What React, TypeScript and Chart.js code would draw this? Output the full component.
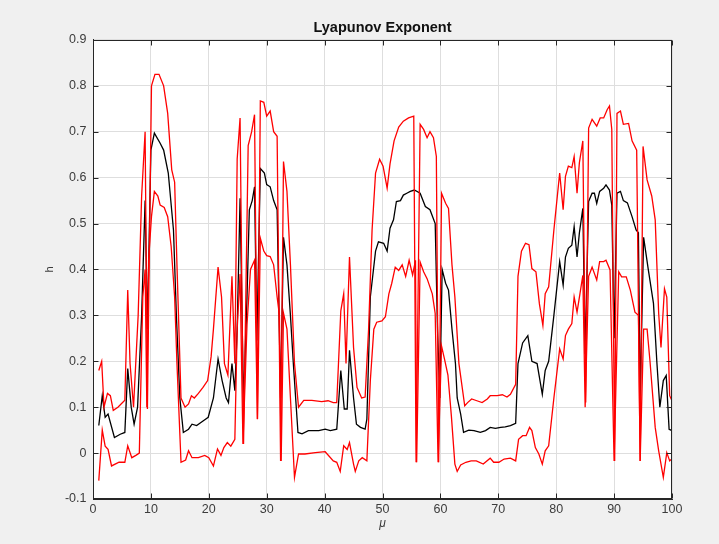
import React, { useEffect, useRef } from "react";
import { Chart, registerables } from "chart.js";

Chart.register(...registerables);

const titleText = "Lyapunov Exponent";
const xLabel = "μ";
const yLabel = "h";

const xTicks = [0, 10, 20, 30, 40, 50, 60, 70, 80, 90, 100];
const yTicks = [-0.1, 0, 0.1, 0.2, 0.3, 0.4, 0.5, 0.6, 0.7, 0.8, 0.9];

const blackMu = [
  1.0, 1.6, 2.1, 2.6, 3.7, 4.7, 5.5, 6.0, 6.6, 7.1, 7.7, 8.4, 9.0, 9.4, 10.0, 10.6, 11.6, 12.2, 13.0, 13.9,
  14.4, 15.0, 15.6, 16.5, 17.1, 17.9, 19.0, 19.9, 20.8, 21.6, 22.3, 23.0, 23.4, 24.0, 24.5, 24.9, 25.4, 26.0, 26.6, 27.0,
  27.5, 27.9, 28.3, 28.9, 29.6, 30.0, 30.6, 31.2, 31.8, 32.4, 32.9, 33.5, 34.1, 34.6, 35.4, 36.1, 37.2, 39.0, 40.1, 41.0,
  42.1, 42.8, 43.4, 43.9, 44.3, 45.0, 45.5, 46.2, 47.0, 47.3, 47.9, 48.8, 49.3, 50.2, 50.8, 51.3, 51.9, 52.4, 53.1, 53.6,
  54.2, 54.8, 55.5, 56.5, 57.4, 58.2, 59.1, 59.5, 59.9, 60.3, 60.9, 61.4, 62.0, 62.6, 62.9, 63.5, 64.0, 64.9, 65.8, 66.9,
  67.8, 68.6, 69.5, 70.4, 71.2, 72.1, 73.0, 73.4, 74.2, 75.1, 75.8, 76.7, 77.6, 78.1, 78.7, 79.6, 80.6, 81.2, 81.6, 82.1,
  82.7, 83.1, 83.6, 84.0, 84.6, 85.0, 85.6, 86.2, 86.6, 87.0, 87.5, 88.2, 88.6, 89.2, 89.6, 90.0, 90.5, 91.1, 91.6, 92.3,
  93.1, 93.8, 94.2, 94.5, 95.1, 95.9, 96.8, 97.4, 97.9, 98.5, 99.0, 99.5, 100.0,
];
const blackH = [
  0.06, 0.125, 0.078, 0.085, 0.034, 0.041, 0.045, 0.184, 0.1, 0.063, 0.1, 0.3, 0.55, 0.27, 0.66, 0.697, 0.675, 0.66, 0.61, 0.486,
  0.3, 0.12, 0.045, 0.052, 0.063, 0.06, 0.07, 0.078, 0.12, 0.205, 0.158, 0.12, 0.11, 0.195, 0.136, 0.27, 0.555, 0.107, 0.34, 0.53,
  0.55, 0.58, 0.245, 0.62, 0.61, 0.585, 0.58, 0.55, 0.53, 0.12, 0.47, 0.41, 0.3, 0.195, 0.045, 0.042, 0.049, 0.049, 0.052, 0.049,
  0.052, 0.18, 0.096, 0.096, 0.224, 0.12, 0.063, 0.056, 0.052, 0.074, 0.34, 0.44, 0.46, 0.457, 0.44, 0.49, 0.508, 0.548, 0.55, 0.562,
  0.566, 0.57, 0.573, 0.566, 0.537, 0.53, 0.5, 0.27, 0.12, 0.4, 0.37, 0.355, 0.27, 0.195, 0.12, 0.085, 0.045, 0.05, 0.049, 0.045,
  0.049, 0.056, 0.054, 0.056, 0.057, 0.06, 0.065, 0.195, 0.24, 0.256, 0.2, 0.195, 0.128, 0.18, 0.2, 0.3, 0.417, 0.366, 0.427, 0.446,
  0.453, 0.493, 0.427, 0.479, 0.533, 0.216, 0.548, 0.566, 0.566, 0.544, 0.57, 0.577, 0.584, 0.573, 0.54, 0.25, 0.566, 0.57, 0.55, 0.545,
  0.515, 0.486, 0.48, 0.12, 0.47, 0.4, 0.326, 0.195, 0.1, 0.158, 0.169, 0.052, 0.049,
];

const upperMu = [
  1.0, 1.5, 1.9, 2.5, 3.0, 3.5, 4.3, 5.5, 6.0, 6.4, 7.0, 7.8, 8.4, 9.0, 9.4, 9.7, 10.1, 10.7, 11.4, 12.2,
  12.9, 13.6, 14.1, 14.5, 15.2, 15.9, 16.5, 17.0, 17.5, 18.2, 19.0, 19.8, 20.4, 20.8, 21.6, 22.2, 22.7, 23.3, 24.0, 24.5,
  24.9, 25.4, 26.0, 26.8, 27.4, 27.9, 28.4, 28.9, 29.5, 30.0, 30.6, 31.2, 31.8, 32.4, 32.9, 33.5, 34.1, 34.8, 35.5, 36.4,
  37.8, 39.5, 40.6, 41.5, 42.1, 42.8, 43.3, 43.7, 44.3, 45.0, 45.6, 46.4, 47.0, 47.6, 48.2, 48.8, 49.5, 50.1, 50.8, 51.3,
  52.0, 52.8, 53.6, 54.5, 55.4, 55.8, 56.5, 57.1, 57.7, 58.2, 58.8, 59.3, 59.7, 60.2, 60.9, 61.4, 62.0, 62.5, 63.2, 64.2,
  64.7, 65.4, 66.3, 67.2, 68.1, 68.6, 69.8, 70.7, 71.5, 72.1, 73.0, 73.4, 74.0, 74.7, 75.3, 75.8, 76.5, 77.1, 77.7, 78.1,
  78.7, 79.6, 80.6, 81.2, 81.6, 82.1, 82.7, 83.1, 83.6, 84.0, 84.6, 85.1, 85.6, 86.2, 87.0, 87.6, 88.2, 88.8, 89.2, 89.6,
  90.1, 90.5, 91.1, 91.6, 92.5, 93.1, 93.9, 94.5, 95.0, 95.7, 96.5, 97.1, 97.7, 98.1, 98.7, 99.1, 99.6, 100.0,
];
const upperH = [
  0.18, 0.2, 0.1, 0.13, 0.125, 0.093, 0.1, 0.115, 0.355, 0.195, 0.1, 0.3, 0.56, 0.7, 0.096, 0.41, 0.8, 0.825, 0.825, 0.8,
  0.74, 0.617, 0.59, 0.41, 0.12, 0.1, 0.107, 0.125, 0.12, 0.13, 0.143, 0.158, 0.21, 0.27, 0.405, 0.34, 0.195, 0.17, 0.385, 0.195,
  0.64, 0.73, 0.02, 0.67, 0.7, 0.737, 0.074, 0.767, 0.764, 0.734, 0.745, 0.7, 0.69, -0.017, 0.635, 0.57, 0.41, 0.195, 0.1, 0.115,
  0.115, 0.112, 0.114, 0.11, 0.11, 0.31, 0.347, 0.195, 0.427, 0.23, 0.143, 0.12, 0.122, 0.27, 0.486, 0.61, 0.64, 0.625, 0.577, 0.63,
  0.68, 0.71, 0.723, 0.73, 0.734, -0.02, 0.716, 0.705, 0.687, 0.7, 0.687, 0.646, -0.02, 0.566, 0.544, 0.533, 0.41, 0.34, 0.195, 0.103,
  0.11, 0.118, 0.114, 0.11, 0.118, 0.125, 0.125, 0.127, 0.122, 0.128, 0.15, 0.385, 0.44, 0.457, 0.454, 0.402, 0.395, 0.325, 0.278, 0.347,
  0.362, 0.486, 0.61, 0.53, 0.603, 0.625, 0.622, 0.646, 0.566, 0.632, 0.68, 0.11, 0.708, 0.727, 0.712, 0.73, 0.73, 0.748, 0.756, 0.705,
  -0.017, 0.74, 0.745, 0.716, 0.718, 0.68, 0.66, -0.017, 0.668, 0.595, 0.56, 0.508, 0.304, 0.23, 0.358, 0.34, 0.125, 0.114,
];

const lowerMu = [
  1.0, 1.6, 2.1, 2.6, 3.2, 4.5, 5.5, 6.0, 6.7, 7.4, 8.0, 8.6, 9.0, 9.3, 9.6, 10.1, 10.6, 11.2, 11.6, 12.3,
  12.9, 13.5, 14.1, 14.5, 15.2, 16.0, 16.5, 17.1, 18.2, 19.3, 20.0, 20.8, 21.5, 22.1, 22.6, 23.2, 23.8, 24.5, 24.9, 25.4,
  25.9, 26.6, 27.2, 27.9, 28.4, 28.9, 29.5, 30.0, 30.6, 31.2, 31.8, 32.2, 32.5, 32.9, 33.5, 34.1, 34.8, 35.5, 36.6, 38.4,
  40.1, 41.5, 42.1, 42.7, 43.3, 43.9, 44.3, 45.0, 45.3, 45.9, 46.5, 47.3, 47.9, 48.5, 49.0, 49.9, 50.5, 51.1, 51.6, 52.2,
  52.8, 53.4, 54.0, 54.6, 55.2, 55.7, 55.9, 56.5, 57.1, 57.7, 58.6, 59.1, 59.6, 60.2, 60.7, 61.3, 61.9, 62.5, 62.9, 63.5,
  64.4, 65.3, 66.2, 67.4, 68.6, 69.2, 70.1, 71.0, 72.1, 73.0, 73.5, 74.2, 74.8, 75.4, 75.8, 76.4, 77.0, 77.6, 78.1, 78.7,
  79.6, 80.6, 81.2, 81.6, 82.1, 82.7, 83.1, 83.6, 84.1, 84.6, 85.0, 85.6, 86.2, 87.0, 87.5, 88.2, 88.6, 89.3, 90.0, 90.8,
  91.3, 92.1, 92.8, 93.6, 94.2, 94.5, 95.1, 95.7, 96.2, 97.1, 97.7, 98.5, 99.1, 99.6, 100.0,
];
const lowerH = [
  -0.06, 0.05, 0.015, 0.008, -0.028, -0.02, -0.02, 0.016, -0.01, -0.005, 0.0, 0.34, 0.4, 0.1, 0.42, 0.515, 0.57, 0.56, 0.54, 0.535,
  0.515, 0.45, 0.34, 0.195, -0.02, -0.015, 0.005, -0.01, -0.01, -0.005, -0.01, -0.028, 0.009, -0.005, 0.012, 0.023, 0.015, 0.03, 0.27, 0.39,
  0.02, 0.28, 0.4, 0.42, 0.074, 0.468, 0.44, 0.43, 0.428, 0.41, 0.34, 0.3, -0.017, 0.305, 0.27, 0.12, -0.053, -0.002, -0.002, 0.001,
  0.003, -0.017, -0.02, -0.04, 0.016, 0.008, 0.023, -0.024, -0.04, -0.017, -0.01, -0.017, 0.158, 0.27, 0.285, 0.288, 0.297, 0.347, 0.37, 0.405,
  0.398, 0.41, 0.385, 0.42, 0.388, 0.42, -0.02, 0.416, 0.395, 0.38, 0.347, 0.304, -0.02, 0.233, 0.205, 0.17, 0.08, -0.024, -0.04, -0.026,
  -0.02, -0.017, -0.017, -0.024, -0.011, -0.02, -0.02, -0.013, -0.011, -0.017, 0.03, 0.038, 0.038, 0.056, 0.049, 0.012, -0.002, -0.024, 0.005, 0.016,
  0.12, 0.227, 0.205, 0.256, 0.27, 0.282, 0.34, 0.307, 0.347, 0.387, 0.1, 0.385, 0.405, 0.377, 0.417, 0.417, 0.42, 0.399, -0.017, 0.395,
  0.384, 0.384, 0.355, 0.307, 0.3, -0.017, 0.27, 0.27, 0.2, 0.056, 0.005, -0.053, 0.001, -0.017, -0.012,
];

const FONT = "'Liberation Sans', Arial, Helvetica, sans-serif";
const AXIS_COLOR = "#262626";
const TEXT_COLOR = "#3c3c3c";

const toPoints = (xs: number[], ys: number[]) => xs.map((x, i) => ({ x, y: ys[i] }));

const matlabBox = {
  id: "matlabBox",
  beforeDraw(chart: any) {
    const { ctx, chartArea: a } = chart;
    ctx.save();
    ctx.fillStyle = "#ffffff";
    ctx.fillRect(a.left, a.top, a.right - a.left, a.bottom - a.top);
    ctx.restore();
  },
  afterDraw(chart: any) {
    const { ctx, chartArea: a, scales } = chart;
    const L = Math.round(a.left) + 0.5;
    const R = Math.round(a.right) - 0.5;
    const T = Math.round(a.top) + 0.5;
    const B = Math.round(a.bottom) - 0.5;
    ctx.save();
    ctx.strokeStyle = AXIS_COLOR;
    ctx.lineWidth = 1;
    ctx.strokeRect(L, T, R - L, B - T);
    const len = 5;
    ctx.beginPath();
    scales.x.ticks.forEach((t: any) => {
      const px = Math.round(scales.x.getPixelForValue(t.value)) + 0.5;
      ctx.moveTo(px, B);
      ctx.lineTo(px, B - len);
      ctx.moveTo(px, T);
      ctx.lineTo(px, T + len);
    });
    scales.y.ticks.forEach((t: any) => {
      const py = Math.round(scales.y.getPixelForValue(t.value)) + 0.5;
      ctx.moveTo(L, py);
      ctx.lineTo(L + len, py);
      ctx.moveTo(R, py);
      ctx.lineTo(R - len, py);
    });
    ctx.stroke();
    ctx.restore();
  },
};

export default function App() {
  const ref = useRef<HTMLCanvasElement | null>(null);

  useEffect(() => {
    if (!ref.current) return;
    const chart = new Chart(ref.current, {
      type: "line",
      data: {
        datasets: [
          {
            label: "upper",
            data: toPoints(upperMu, upperH),
            borderColor: "#ff0000",
            borderWidth: 1.3,
            pointRadius: 0,
            tension: 0,
          },
          {
            label: "lower",
            data: toPoints(lowerMu, lowerH),
            borderColor: "#ff0000",
            borderWidth: 1.3,
            pointRadius: 0,
            tension: 0,
          },
          {
            label: "h",
            data: toPoints(blackMu, blackH),
            borderColor: "#000000",
            borderWidth: 1.3,
            pointRadius: 0,
            tension: 0,
          },
        ],
      },
      options: {
        responsive: false,
        animation: false,
        layout: { padding: { left: 0, right: 47, top: 0, bottom: 0 } },
        plugins: {
          legend: { display: false },
          tooltip: { enabled: false },
          title: {
            display: true,
            text: titleText,
            fullSize: false,
            color: "#111111",
            font: { family: FONT, size: 14.5, weight: "bold" },
            padding: { top: 19.5, bottom: 3 },
          },
        },
        scales: {
          x: {
            type: "linear",
            min: 0,
            max: 100,
            afterBuildTicks: (scale: any) => {
              scale.ticks = xTicks.map((v) => ({ value: v }));
            },
            afterFit: (scale: any) => {
              scale.height = 45;
            },
            ticks: {
              color: TEXT_COLOR,
              font: { family: FONT, size: 12.5 },
              padding: 3.5,
              maxRotation: 0,
              autoSkip: false,
              callback: (v: any) => String(v),
            },
            grid: { color: "#dedede", drawTicks: false, lineWidth: 1 },
            border: { color: AXIS_COLOR },
            title: {
              display: true,
              text: xLabel,
              color: TEXT_COLOR,
              font: { family: FONT, size: 12, style: "italic" },
              padding: { top: 0, bottom: 13 },
            },
          },
          y: {
            type: "linear",
            min: -0.1,
            max: 0.9,
            afterBuildTicks: (scale: any) => {
              scale.ticks = yTicks.map((v) => ({ value: v }));
            },
            afterFit: (scale: any) => {
              scale.width = 93;
            },
            ticks: {
              color: TEXT_COLOR,
              font: { family: FONT, size: 12.5 },
              padding: 6.5,
              autoSkip: false,
              callback: (v: any) => String(Number(Number(v).toFixed(1))),
            },
            grid: { color: "#dedede", drawTicks: false, lineWidth: 1 },
            border: { color: AXIS_COLOR },
            title: {
              display: true,
              text: yLabel,
              color: TEXT_COLOR,
              font: { family: FONT, size: 11 },
              padding: { top: 43.5, bottom: 0 },
            },
          },
        },
      },
      plugins: [matlabBox],
    } as any);
    return () => chart.destroy();
  }, []);

  return (
    <div
      style={{
        position: "fixed",
        left: 0,
        top: 0,
        width: 719,
        height: 544,
        background: "#f0f0f0",
      }}
    >
      <canvas ref={ref} width={719} height={544} style={{ display: "block" }} />
    </div>
  );
}
